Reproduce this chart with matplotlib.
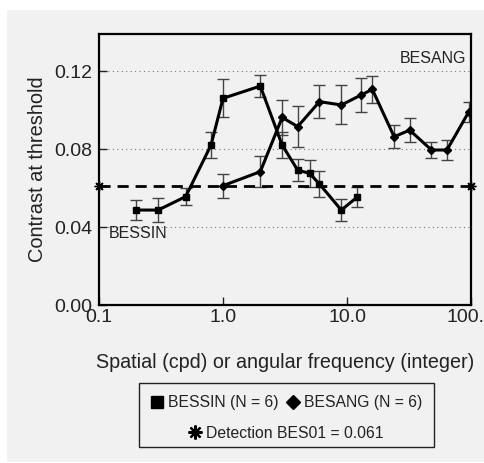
import matplotlib as mpl
import matplotlib.pyplot as plt
from matplotlib.lines import Line2D
from matplotlib.patches import Rectangle

mpl.rcParams.update(
    {
        "font.family": ["Liberation Sans", "DejaVu Sans"],
        "font.size": 12,
        "text.color": "#222222",
        "axes.labelcolor": "#222222",
        "xtick.color": "#222222",
        "ytick.color": "#222222",
    }
)

BG = "#f1f1f1"

# data
sin_freq = [0.2, 0.3, 0.5, 0.8, 1.0, 2.0, 3.0, 4.0, 5.0, 6.0, 9.0, 12.0]
sin_thr = [0.0487, 0.0487, 0.0556, 0.0820, 0.1060, 0.1123, 0.0820, 0.0692, 0.0675, 0.0620, 0.0487, 0.0552]
sin_err = [0.0053, 0.0062, 0.0043, 0.0066, 0.0098, 0.0056, 0.0067, 0.0057, 0.0071, 0.0068, 0.0055, 0.0051]

ang_freq = [1, 2, 3, 4, 6, 9, 13, 16, 24, 32, 48, 64, 96]
ang_thr = [0.0612, 0.0684, 0.0962, 0.0915, 0.1043, 0.1026, 0.1077, 0.1106, 0.0863, 0.0897, 0.0795, 0.0795, 0.0991]
ang_err = [0.0062, 0.0079, 0.0091, 0.0104, 0.0083, 0.0100, 0.0085, 0.0070, 0.0060, 0.0060, 0.0040, 0.0050, 0.0050]

detection = 0.061
det_x = [0.1, 100.0]

xticks = [0.1, 1.0, 10.0, 100.0]
xtick_labels = ["0.1", "1.0", "10.0", "100.0"]
yticks = [0.00, 0.04, 0.08, 0.12]
ytick_labels = ["0.00", "0.04", "0.08", "0.12"]

fig = plt.figure(figsize=(4.85, 4.63), dpi=100)
fig.patches.append(
    Rectangle((7 / 485, 1 / 463), 478 / 485, 452 / 463, transform=fig.transFigure,
              facecolor=BG, edgecolor="none", zorder=-10)
)

ax = fig.add_axes([99 / 485, 1 - 305 / 463, 372 / 485, 271 / 463])
ax.set_facecolor(BG)
ax.set_xscale("log")
ax.set_xlim(0.1, 100)
ax.set_ylim(0, 0.139)

for gy in yticks[1:]:
    ax.axhline(gy, color="#777777", lw=0.8, ls=(0, (1, 3)), zorder=1)

ax.errorbar(sin_freq, sin_thr, yerr=sin_err, fmt="none", ecolor="#444444",
            elinewidth=1.0, capsize=4, capthick=1.0, zorder=2)
ax.plot(sin_freq, sin_thr, color="black", lw=2.2, marker="s", ms=4.5, zorder=3)

ax.errorbar(ang_freq, ang_thr, yerr=ang_err, fmt="none", ecolor="#444444",
            elinewidth=1.0, capsize=4, capthick=1.0, zorder=2)
ax.plot(ang_freq, ang_thr, color="black", lw=2.2, marker="D", ms=4.5, zorder=3)

ax.axhline(detection, color="black", lw=2.0, ls=(0, (4, 2.5)), zorder=2)
ax.plot(det_x, [detection] * len(det_x), ls="none", marker=(8, 2, 0), ms=7,
        mew=1.0, color="black", clip_on=False, zorder=4)

ax.text(0.12, 0.0365, "BESSIN", ha="left", va="center", fontsize=11.5)
ax.text(92, 0.1265, "BESANG", ha="right", va="center", fontsize=11.5)

ax.set_xticks(xticks)
ax.set_xticklabels(xtick_labels)
ax.set_yticks(yticks)
ax.set_yticklabels(ytick_labels)
ax.minorticks_off()
ax.tick_params(direction="in", length=6, width=1.0, labelsize=14)
ax.tick_params(axis="x", pad=3)
ax.tick_params(axis="y", pad=5)
for sp in ax.spines.values():
    sp.set_linewidth(1.6)

ax.set_xlabel("Spatial (cpd) or angular frequency (integer)", fontsize=14.2, labelpad=19)
ax.set_ylabel("Contrast at threshold", fontsize=14.4, labelpad=5)

# legend: frame box plus two frameless legends inside it
fig.patches.append(
    Rectangle((139 / 485, 1 - 447 / 463), 295 / 485, 64 / 463, transform=fig.transFigure,
              facecolor=BG, edgecolor="#222222", lw=1.0, zorder=5)
)
h1 = [
    Line2D([], [], ls="none", marker="s", ms=9, color="black"),
    Line2D([], [], ls="none", marker="D", ms=7, color="black"),
]
leg1 = fig.legend(h1, ["BESSIN (N = 6)", "BESANG (N = 6)"], ncol=2, frameon=False,
                  loc="center", bbox_to_anchor=(286.5 / 485, 1 - 403 / 463),
                  handlelength=0.8, handletextpad=0.3, columnspacing=0.5,
                  borderpad=0, fontsize=11.3)
leg1.set_zorder(6)
h2 = [Line2D([], [], ls="none", marker=(8, 2, 0), ms=10, mew=1.6, color="black")]
leg2 = fig.legend(h2, ["Detection BES01 = 0.061"], frameon=False, loc="center",
                  bbox_to_anchor=(286.5 / 485, 1 - 433 / 463), handlelength=0.8,
                  handletextpad=0.3, borderpad=0, fontsize=11.3)
leg2.set_zorder(6)

fig.savefig("out.png", dpi=100)
